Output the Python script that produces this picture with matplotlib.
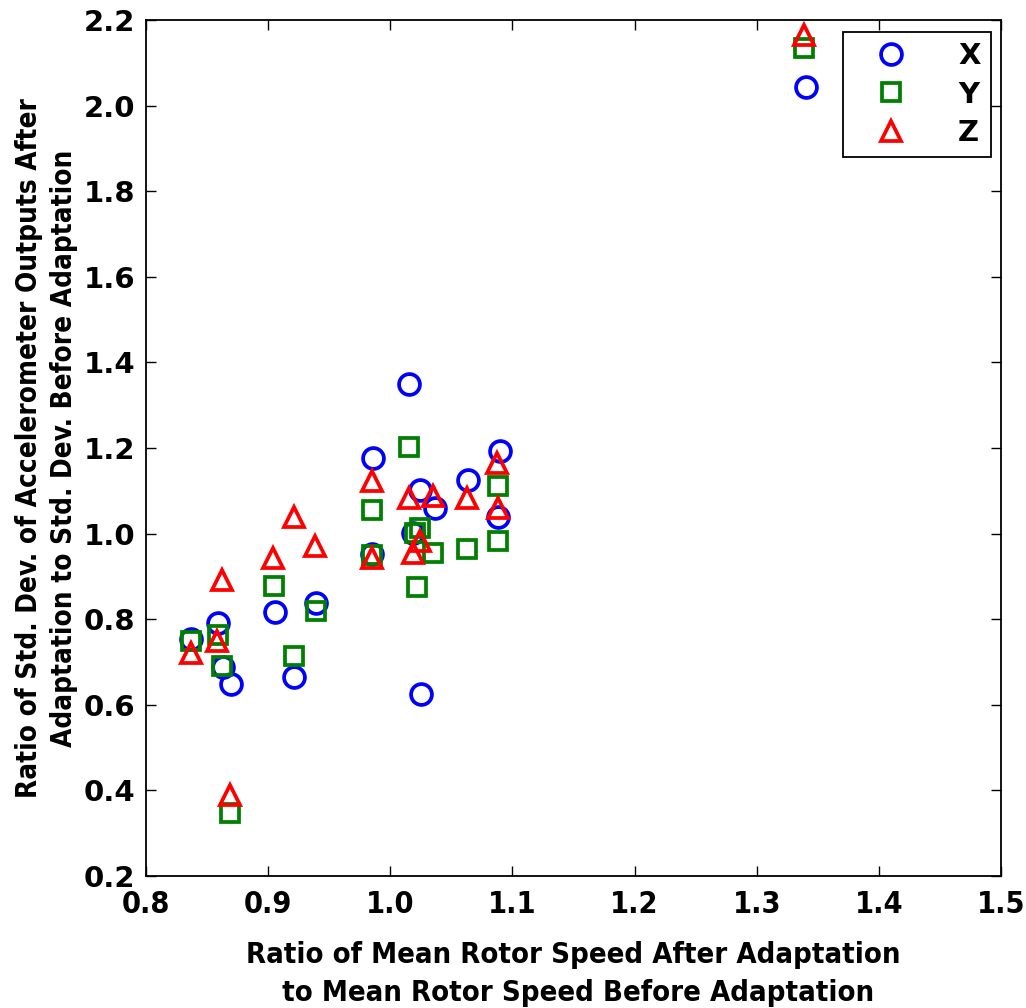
import matplotlib
matplotlib.use("Agg")
import matplotlib.pyplot as plt

# ==============================
# DATA
# ==============================
x_x = [0.837, 0.859, 0.863, 0.870, 0.906, 0.921, 0.939, 0.985, 0.986,
       1.015, 1.019, 1.024, 1.025, 1.037, 1.064, 1.088, 1.090, 1.340]
x_y = [0.754, 0.791, 0.689, 0.648, 0.818, 0.666, 0.838, 0.953, 1.177,
       1.349, 1.002, 1.103, 0.625, 1.060, 1.126, 1.040, 1.193, 2.043]

y_x = [0.837, 0.859, 0.862, 0.869, 0.905, 0.921, 0.939, 0.985, 0.985,
       1.015, 1.020, 1.024, 1.022, 1.035, 1.063, 1.088, 1.088, 1.339]
y_y = [0.750, 0.764, 0.691, 0.347, 0.877, 0.715, 0.820, 0.951, 1.056,
       1.203, 1.002, 1.013, 0.875, 0.955, 0.963, 1.111, 0.982, 2.136]

z_x = [0.837, 0.858, 0.862, 0.869, 0.904, 0.921, 0.938, 0.985, 0.985,
       1.015, 1.019, 1.024, 1.035, 1.063, 1.087, 1.088, 1.339]
z_y = [0.721, 0.750, 0.891, 0.389, 0.943, 1.040, 0.970, 0.943, 1.122,
       1.084, 0.955, 0.982, 1.089, 1.084, 1.165, 1.060, 2.165]

xticks = [0.8, 0.9, 1.0, 1.1, 1.2, 1.3, 1.4, 1.5]
yticks = [0.2, 0.4, 0.6, 0.8, 1.0, 1.2, 1.4, 1.6, 1.8, 2.0, 2.2]

# ==============================
# PLOT
# ==============================
plt.rcParams['font.family'] = ['DejaVu Sans']

fig = plt.figure(figsize=(10.26, 10.08), dpi=100)
ax = fig.add_axes([0.1423, 0.131, 0.8333, 0.849])

ax.plot(x_x, x_y, 'o', ls='none', mfc='none', mec='#0000ff', ms=15, mew=2.7, label='X')
ax.plot(y_x, y_y, 's', ls='none', mfc='none', mec='#008000', ms=12.5, mew=2.7, label='Y')
ax.plot(z_x, z_y, '^', ls='none', mfc='none', mec='#ff0000', ms=15, mew=2.7, label='Z')

ax.set_xlim(0.8, 1.5)
ax.set_ylim(0.2, 2.2)
ax.set_xticks(xticks)
ax.set_yticks(yticks)
ax.set_xticklabels([f"{t:.1f}" for t in xticks], fontsize=22, fontweight='bold',
                   fontstretch='condensed')
ax.set_yticklabels([f"{t:.1f}" for t in yticks], fontsize=21, fontweight='bold')
ax.tick_params(axis='both', direction='in', length=7, width=1, top=True, right=True)
ax.tick_params(axis='x', pad=10)
ax.tick_params(axis='y', pad=8)
for s in ax.spines.values():
    s.set_linewidth(1.3)

ax.set_xlabel("Ratio of Mean Rotor Speed After Adaptation\n to Mean Rotor Speed Before Adaptation",
              fontsize=21, fontweight='bold', fontstretch='condensed', labelpad=16,
              linespacing=1.45)
ax.set_ylabel("Ratio of Std. Dev. of Accelerometer Outputs After\nAdaptation to Std. Dev. Before Adaptation",
              fontsize=20, fontweight='bold', fontstretch='condensed', labelpad=4,
              linespacing=1.3)

leg = ax.legend(loc='upper right', fancybox=False, edgecolor='black', framealpha=1,
                prop={'weight': 'bold', 'size': 21}, handlelength=2.6, handletextpad=1.0,
                borderpad=0.35, labelspacing=0.35, borderaxespad=0,
                bbox_to_anchor=(0.988, 0.986))
leg.get_frame().set_linewidth(1.3)

plt.savefig("out.png", dpi=100)
